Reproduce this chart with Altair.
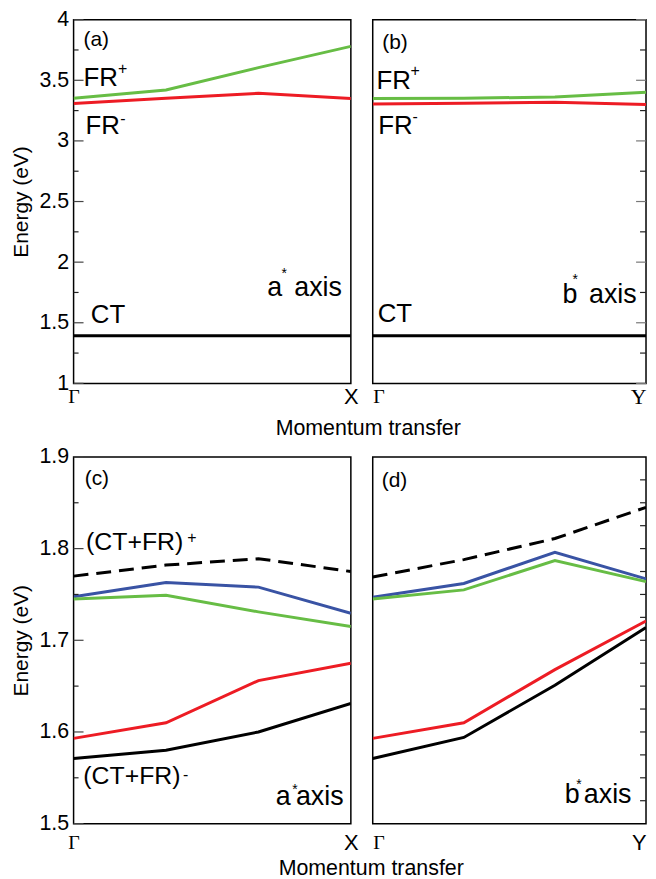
import altair as alt
import pandas as pd

# ---------------- data ----------------
Q = [0.0, 1 / 3, 2 / 3, 1.0]  # k-points along the path (Gamma -> zone edge)

# panel (a): a* axis
A_FR_PLUS = [3.352, 3.420, 3.604, 3.780]
A_FR_MINUS = [3.309, 3.352, 3.393, 3.350]
A_CT = [1.393, 1.393, 1.393, 1.393]
# panel (b): b* axis
B_FR_PLUS = [3.350, 3.352, 3.362, 3.402]
B_FR_MINUS = [3.305, 3.310, 3.318, 3.300]
B_CT = [1.393, 1.393, 1.393, 1.393]
# panel (c): a* axis
C_DASH = [1.770, 1.782, 1.789, 1.775]
C_BLUE = [1.7475, 1.763, 1.758, 1.7295]
C_GREEN = [1.745, 1.749, 1.731, 1.715]
C_RED = [1.593, 1.610, 1.656, 1.675]
C_BLACK = [1.571, 1.580, 1.600, 1.631]
# panel (d): b* axis
D_DASH = [1.769, 1.788, 1.811, 1.845]
D_BLUE = [1.747, 1.762, 1.796, 1.767]
D_GREEN = [1.745, 1.755, 1.787, 1.764]
D_RED = [1.593, 1.610, 1.668, 1.721]
D_BLACK = [1.571, 1.594, 1.651, 1.714]

TOP_DOMAIN = [1, 4]
BOT_DOMAIN = [1.5, 1.9]
TOP_MAJOR = [1, 1.5, 2, 2.5, 3, 3.5, 4]
TOP_MINOR = [1.25, 1.75, 2.25, 2.75, 3.25, 3.75]
BOT_MAJOR = [1.5, 1.6, 1.7, 1.8, 1.9]
BOT_MINOR = [1.55, 1.65, 1.75, 1.85]
D_RIGHT = [1.525, 1.55, 1.575, 1.6, 1.625, 1.65, 1.675, 1.7, 1.725, 1.75,
           1.775, 1.8, 1.825, 1.85, 1.875]

SERIES = ["green", "red", "blue", "black"]
COLORS = ["#67bd45", "#ed1c24", "#3953a4", "#000000"]

# annotation texts and anchors (momentum fraction, energy)
A_MAIN = (["FR", "FR", "CT"], [0.036, 0.043, 0.062], [3.451, 3.057, 1.494])
A_TAG = (["(a)"], [0.036], [3.836])
A_SUP = (["+", "-"], [0.160, 0.168], [3.59, 3.18])
A_AX = (["a", "axis"], [0.752, 0.968], [1.724, 1.724])
A_STAR = (["*"], [0.760], [1.905])

B_MAIN = (["FR", "FR", "CT"], [0.014, 0.020, 0.018], [3.426, 3.057, 1.506])
B_TAG = (["(b)"], [0.035], [3.810])
B_SUP = (["+", "-"], [0.138, 0.146], [3.574, 3.197])
B_AX = (["b", "axis"], [0.749, 0.966], [1.664, 1.664])
B_STAR = (["*"], [0.741], [1.855])

C_MAIN = (["(CT+FR)", "(CT+FR)"], [0.045, 0.035], [1.799, 1.5433])
C_TAG = (["(c)"], [0.040], [1.876])
C_SUP = (["+", "-"], [0.410, 0.395], [1.811, 1.553])
C_AX = (["a", "axis"], [0.783, 0.974], [1.5198, 1.5198])
C_STAR = (["*"], [0.798], [1.537])

D_MAIN = ([], [], [])
D_TAG = (["(d)"], [0.033], [1.874])
D_SUP = ([], [], [])
D_AX = (["b", "axis"], [0.757, 0.947], [1.5224, 1.5224])
D_STAR = (["*"], [0.755], [1.542])

FONT = "Liberation Sans"
SERIF = "Liberation Serif"


def series_df(pairs):
    rows = []
    for name, vals in pairs:
        for q, e in zip(Q, vals):
            rows.append({"q": q, "E": e, "series": name})
    return pd.DataFrame(rows)


def text_df(spec):
    labels, xs, ys = spec
    return pd.DataFrame({"label": labels, "q": xs, "E": ys})


def make_panel(solid, dashed, domain, width, height, show_y, ylabel_vals,
               left_major, left_minor, right_ticks, right_major, x_end,
               x_end_serif, flush, xtitle, title_dx, label_pad,
               main, tag, sup, ax, star, main_size):
    if show_y:
        yaxis = alt.Axis(title="Energy (eV)", values=ylabel_vals, format="~g",
                         ticks=False, domain=False, grid=False, labelPadding=5,
                         labelFontSize=21.5, labelFont=FONT, labelColor="black",
                         titleFontSize=21, titleFont=FONT, titleFontWeight="normal",
                         titleColor="black", titlePadding=7)
    else:
        yaxis = None
    yscale = alt.Scale(domain=domain, nice=False, zero=False)
    xscale = alt.Scale(domain=[0, 1], nice=False, zero=False)
    end_font = SERIF if x_end_serif else FONT
    xaxis_kw = dict(values=[0, 1],
                    labelExpr="datum.value == 0 ? 'Γ' : '" + x_end + "'",
                    ticks=False, domain=False, grid=False, labelPadding=label_pad,
                    labelFont={"condition": {"test": "datum.value == 0", "value": SERIF},
                               "value": end_font},
                    labelFontSize={"condition": {"test": "datum.value == 0", "value": 20},
                                   "value": 22},
                    labelColor="black", labelFlush=flush)
    if xtitle:
        xaxis_kw.update(title="Momentum transfer", titleFontSize=21.5, titleFont=FONT,
                        titleFontWeight="normal", titleColor="black",
                        titleX=title_dx, titleY=51, titleAlign="center",
                        titleBaseline="alphabetic")
    else:
        xaxis_kw.update(title=None)
    xaxis = alt.Axis(**xaxis_kw)

    def X():
        return alt.X("q:Q", scale=xscale, axis=xaxis)

    def Y():
        if yaxis is None:
            return alt.Y("E:Q", scale=yscale, axis=None)
        return alt.Y("E:Q", scale=yscale, axis=yaxis)

    layers = []
    layers.append(
        alt.Chart(series_df(solid)).mark_line(strokeWidth=3, clip=True).encode(
            x=X(), y=Y(),
            color=alt.Color("series:N", scale=alt.Scale(domain=SERIES, range=COLORS),
                            legend=None),
            detail="series:N",
        )
    )
    if dashed:
        layers.append(
            alt.Chart(series_df(dashed)).mark_line(strokeWidth=3, color="black",
                                                   strokeDash=[15, 8], clip=True).encode(
                x=X(), y=Y())
        )
    if left_major:
        layers.append(
            alt.Chart(pd.DataFrame({"E": left_major})).mark_rule(color="#444444", strokeWidth=1.2)
            .encode(y=Y(), x=alt.value(0), x2=alt.value(10))
        )
        layers.append(
            alt.Chart(pd.DataFrame({"E": left_minor})).mark_rule(color="#222222", strokeWidth=1.2)
            .encode(y=Y(), x=alt.value(0), x2=alt.value(5))
        )
    if right_ticks:
        layers.append(
            alt.Chart(pd.DataFrame({"E": right_ticks})).mark_rule(color="#222222", strokeWidth=1.2)
            .encode(y=Y(), x=alt.value(width - 6), x2=alt.value(width))
        )
    if right_major:
        layers.append(
            alt.Chart(pd.DataFrame({"E": right_major})).mark_rule(color="#777777", strokeWidth=1.2)
            .encode(y=Y(), x=alt.value(width - 10), x2=alt.value(width))
        )
    if main[0]:
        layers.append(
            alt.Chart(text_df(main)).mark_text(align="left", baseline="alphabetic",
                                               fontSize=main_size, font=FONT, color="black")
            .encode(x=X(), y=Y(), text="label:N")
        )
    layers.append(
        alt.Chart(text_df(tag)).mark_text(align="left", baseline="middle",
                                          fontSize=21, font=FONT, color="black")
        .encode(x=X(), y=Y(), text="label:N")
    )
    if sup[0]:
        layers.append(
            alt.Chart(text_df(sup)).mark_text(align="left", baseline="middle",
                                              fontSize=16, font=FONT, color="black")
            .encode(x=X(), y=Y(), text="label:N")
        )
    layers.append(
        alt.Chart(text_df(ax)).mark_text(align="right", baseline="alphabetic",
                                         fontSize=27, font=FONT, color="black")
        .encode(x=X(), y=Y(), text="label:N")
    )
    layers.append(
        alt.Chart(text_df(star)).mark_text(align="center", baseline="middle",
                                           fontSize=14, font=FONT, color="black")
        .encode(x=X(), y=Y(), text="label:N")
    )
    return alt.layer(*layers).properties(width=width, height=height)


panel_a = make_panel(
    [("green", A_FR_PLUS), ("red", A_FR_MINUS), ("black", A_CT)], None,
    TOP_DOMAIN, 279, 366, True, TOP_MAJOR, TOP_MAJOR, TOP_MINOR, None, None,
    "X", False, False, True, 296, 3, A_MAIN, A_TAG, A_SUP, A_AX, A_STAR, 26)
panel_b = make_panel(
    [("green", B_FR_PLUS), ("red", B_FR_MINUS), ("black", B_CT)], None,
    TOP_DOMAIN, 275, 366, False, None, None, None, TOP_MINOR, TOP_MAJOR,
    "Y", True, True, False, 0, 3, B_MAIN, B_TAG, B_SUP, B_AX, B_STAR, 26)
panel_c = make_panel(
    [("blue", C_BLUE), ("green", C_GREEN), ("red", C_RED), ("black", C_BLACK)],
    [("dash", C_DASH)],
    BOT_DOMAIN, 279, 369, True, BOT_MAJOR, BOT_MAJOR, BOT_MINOR, None, None,
    "X", False, False, True, 299, 9, C_MAIN, C_TAG, C_SUP, C_AX, C_STAR, 25)
panel_d = make_panel(
    [("blue", D_BLUE), ("green", D_GREEN), ("red", D_RED), ("black", D_BLACK)],
    [("dash", D_DASH)],
    BOT_DOMAIN, 275, 369, False, None, None, None, D_RIGHT, None,
    "Y", False, True, False, 0, 9, D_MAIN, D_TAG, D_SUP, D_AX, D_STAR, 25)

chart = alt.concat(
    panel_a, panel_b, panel_c, panel_d,
    columns=2, spacing={"row": 74, "column": 22}, bounds="flush",
).properties(
    padding={"left": 2, "top": -3, "right": 0, "bottom": 0},
    background="white",
).configure_view(
    stroke="black", strokeWidth=1.5
)

chart.save("out.html", embed_options={"renderer": "svg", "actions": False})
